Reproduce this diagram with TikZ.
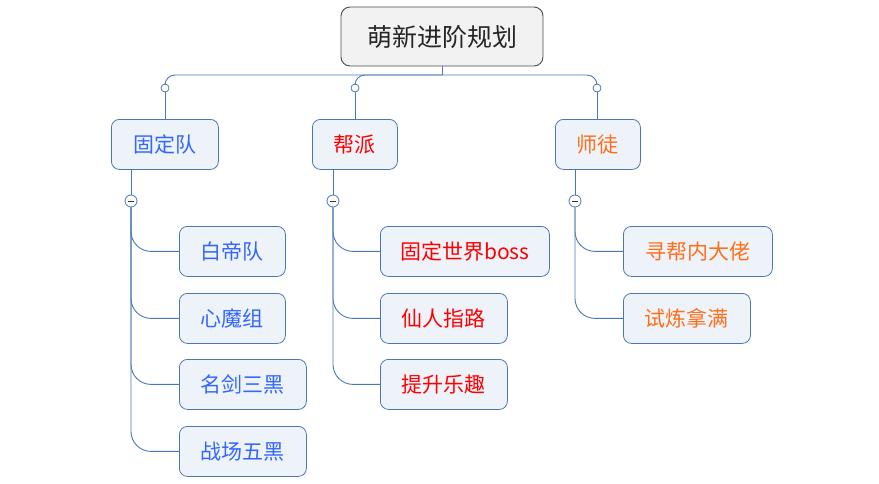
\documentclass[tikz,border=0pt]{standalone}
\usepackage{fontspec}
\setmainfont{Noto Sans CJK SC}
\definecolor{lnc}{HTML}{4A78B4}
\definecolor{boxfill}{HTML}{EEF3FA}
\definecolor{rootfill}{HTML}{F2F2F2}
\definecolor{bluetxt}{HTML}{3366FF}
\definecolor{redtxt}{HTML}{FF0000}
\definecolor{orgtxt}{HTML}{FF6F1A}
\tikzset{
  conn/.style={draw=lnc, line width=0.9pt},
  rootbox/.style={draw=black!70, fill=rootfill, rounded corners=9pt, line width=0.9pt,
    minimum width=202pt, minimum height=59pt, font=\fontsize{25}{28}\selectfont, text=black!85, inner sep=0pt},
  tbox/.style={draw=lnc, fill=boxfill, rounded corners=8pt, line width=0.8pt,
    minimum height=50pt, font=\fontsize{21}{24}\selectfont, inner sep=0pt, anchor=north west},
  knob/.style={circle, draw=lnc, fill=white, line width=0.8pt, minimum size=8pt, inner sep=0pt},
  minusknob/.style={circle, draw=lnc, fill=white, line width=0.8pt, minimum size=12pt, inner sep=0pt,
    path picture={\draw[black!80, line width=1pt] ([xshift=-3pt]path picture bounding box.center) -- ([xshift=3pt]path picture bounding box.center);}},
}
\begin{document}
\begin{tikzpicture}[x=1pt, y=-1pt]
\useasboundingbox (0,0) rectangle (879,483);
% root
\node[rootbox] (root) at (442,36.5) {萌新进阶规划};
\coordinate (j) at (442,75);
% level 1
\node[tbox, minimum width=107pt, text=bluetxt] (g) at (111,119) {固定队};
\node[tbox, minimum width=85pt, text=redtxt] (b) at (312,119) {帮派};
\node[tbox, minimum width=85pt, text=orgtxt] (s) at (555,119) {师徒};
% knobs
\node[knob] (kg) at (165,88) {};
\node[knob] (kb) at (355,88) {};
\node[knob] (ks) at (597,88) {};
\draw[conn] (root.south) -- (j);
\draw[conn, rounded corners=10pt] (j) -| (kg.north);
\draw[conn, rounded corners=10pt] (j) -| (kb.north);
\draw[conn, rounded corners=10pt] (j) -| (ks.north);
\draw[conn] (kg.south) -- (165,119);
\draw[conn] (kb.south) -- (355,119);
\draw[conn] (ks.south) -- (597,119);
% minus knobs
\node[minusknob] (mg) at (131,201) {};
\node[minusknob] (mb) at (333,201) {};
\node[minusknob] (ms) at (575,201) {};
\draw[conn] (131,169) -- (mg.north);
\draw[conn] (333,169) -- (mb.north);
\draw[conn] (575,169) -- (ms.north);
% children of 固定队
\node[tbox, minimum width=106pt, text=bluetxt] (g1) at (179,226) {白帝队};
\node[tbox, minimum width=106pt, text=bluetxt] (g2) at (179,293) {心魔组};
\node[tbox, minimum width=127pt, text=bluetxt] (g3) at (179,359) {名剑三黑};
\node[tbox, minimum width=127pt, text=bluetxt] (g4) at (179,426) {战场五黑};
% children of 帮派
\node[tbox, minimum width=169pt, text=redtxt] (b1) at (380,226) {固定世界boss};
\node[tbox, minimum width=127pt, text=redtxt] (b2) at (380,293) {仙人指路};
\node[tbox, minimum width=127pt, text=redtxt] (b3) at (380,359) {提升乐趣};
% children of 师徒
\node[tbox, minimum width=149pt, text=orgtxt] (s1) at (623,226) {寻帮内大佬};
\node[tbox, minimum width=127pt, text=orgtxt] (s2) at (623,293) {试炼拿满};
% connectors
\foreach \c in {g1,g2,g3,g4} \draw[conn, rounded corners=20pt] (mg.south) |- (\c.west);
\foreach \c in {b1,b2,b3} \draw[conn, rounded corners=20pt] (mb.south) |- (\c.west);
\foreach \c in {s1,s2} \draw[conn, rounded corners=20pt] (ms.south) |- (\c.west);
\end{tikzpicture}
\end{document}
